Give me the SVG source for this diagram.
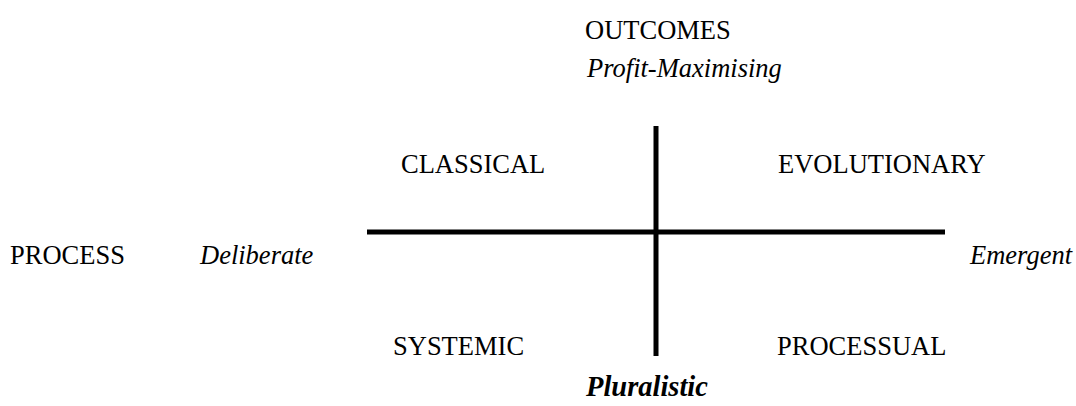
<svg xmlns="http://www.w3.org/2000/svg" width="1076" height="406" viewBox="0 0 1076 406">
<style>
text{font-family:"Liberation Serif","Times New Roman","DejaVu Serif",serif;font-size:26.5px;fill:#000}
.i{font-style:italic}
.b{font-weight:bold;font-style:italic;font-size:28.5px}
.ax{stroke:#000;stroke-width:5;fill:none}
</style>
<rect width="1076" height="406" fill="#fff"/>
<g id="connectors">
<line class="ax" x1="367" y1="232" x2="945" y2="232"/>
<line class="ax" x1="656" y1="126" x2="656" y2="356"/>
</g>
<g id="outcomes"><text font-family="Liberation Serif, serif" x="585" y="39">OUTCOMES</text></g>
<g id="profit"><text font-family="Liberation Serif, serif" class="i" x="587" y="77">Profit-Maximising</text></g>
<g id="classical"><text font-family="Liberation Serif, serif" x="401" y="173">CLASSICAL</text></g>
<g id="evolutionary"><text font-family="Liberation Serif, serif" x="778" y="173">EVOLUTIONARY</text></g>
<g id="process"><text font-family="Liberation Serif, serif" x="10" y="264">PROCESS</text></g>
<g id="deliberate"><text font-family="Liberation Serif, serif" class="i" x="200" y="264">Deliberate</text></g>
<g id="emergent"><text font-family="Liberation Serif, serif" class="i" x="970" y="264">Emergent</text></g>
<g id="systemic"><text font-family="Liberation Serif, serif" x="393" y="355">SYSTEMIC</text></g>
<g id="processual"><text font-family="Liberation Serif, serif" x="777" y="355">PROCESSUAL</text></g>
<g id="pluralistic"><text font-family="Liberation Serif, serif" class="b" x="586" y="396">Pluralistic</text></g>
</svg>
